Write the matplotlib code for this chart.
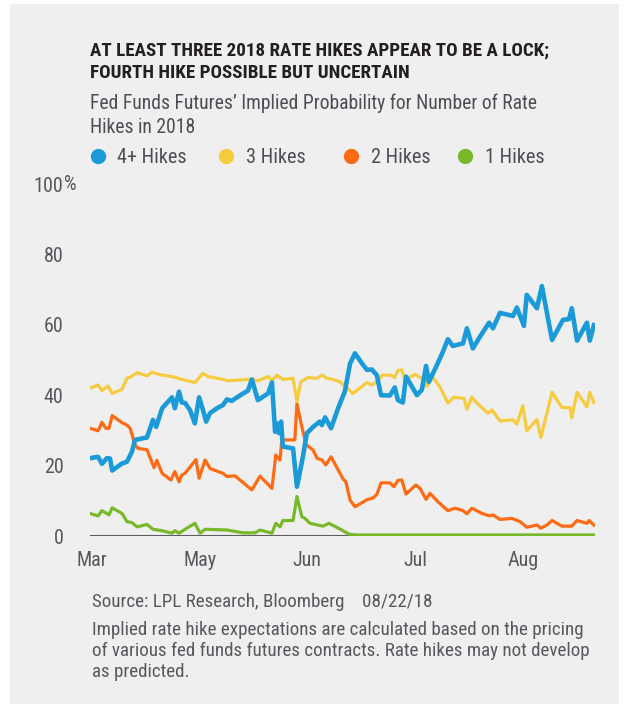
import matplotlib
matplotlib.use("Agg")
import matplotlib.pyplot as plt
from matplotlib.lines import Line2D
from matplotlib.patches import Rectangle

# days since start of chart window
blue_days = [0, 2.3, 3.4, 4.8, 5.7, 6.3, 9.1, 10.5, 11.9, 12.8, 16.2, 17.9, 18.8, 20.5, 23.3, 24.1,
             25.3, 26.1, 27.0, 28.4, 29.8, 31.0, 32.1, 33.0, 34.1, 36.1, 37.8, 38.9, 40.3, 41.8,
             43.5, 44.9, 46.0, 47.7, 50.6, 51.7, 52.6, 53.1, 53.7, 54.3, 54.8, 57.7, 58.8, 60.5,
             61.6, 63.4, 65.3, 65.9, 66.8, 68.5, 70.5, 72.4, 73.9, 75.3, 77.3, 78.7, 80.1, 81.5,
             82.7, 85.2, 86.6, 87.5, 88.9, 89.8, 92.9, 94.3, 95.5, 96.3, 98.6, 100.3, 101.7, 103.1,
             106.0, 107.1, 108.8, 110.8, 113.4, 114.5, 116.5, 120.2, 121.3, 123.3, 124.1, 127.0,
             128.4, 131.3, 134.4, 136.1, 136.9, 138.4, 141.2, 142.0, 143.2]
blue_vals = [22.1, 22.5, 20.5, 22.1, 22.0, 18.6, 20.6, 21.1, 23.9, 27.3, 28.0, 33.0, 31.0, 36.3, 39.4,
             36.3, 41.0, 37.9, 37.8, 35.8, 32.0, 39.4, 35.8, 32.5, 34.9, 36.3, 37.2, 38.8, 38.4, 39.4,
             40.5, 41.3, 44.5, 38.6, 40.5, 43.6, 29.6, 32.0, 29.2, 32.5, 25.4, 24.9, 14.0, 22.5,
             29.2, 31.0, 32.5, 31.5, 33.7, 30.6, 36.3, 41.0, 49.0, 51.9, 49.0, 47.2, 47.3, 45.7,
             40.0, 39.9, 42.2, 38.6, 37.9, 45.3, 40.0, 41.5, 48.3, 43.8, 48.6, 52.4, 55.9, 54.0,
             54.7, 59.0, 53.3, 56.6, 60.6, 59.0, 63.4, 62.5, 64.9, 59.7, 68.5, 64.7,
             71.0, 55.7, 61.4, 61.6, 64.7, 55.5, 60.6, 55.5, 59.9]

yellow_days = [0, 2.3, 3.4, 5.1, 6.3, 9.1, 10.5, 11.4, 13.4, 16.2, 17.6, 20.5, 23.3, 26.1, 29.8,
               32.1, 33.5, 37.8, 38.9, 45.5, 47.7, 50.6, 51.7, 53.1, 54.8, 57.7, 58.8, 59.9, 61.9,
               64.5, 65.9, 67.3, 69.0, 71.0, 72.4, 74.7, 76.7, 78.7, 80.1, 81.5, 83.0, 85.5, 86.6,
               87.5, 88.6, 89.5, 92.3, 95.2, 95.7, 97.4, 99.4, 101.7, 103.4, 106.3, 107.1, 108.5,
               110.2, 113.1, 114.2, 116.5, 120.2, 121.3, 123.0, 124.1, 127.0, 128.1, 131.3, 134.1,
               136.4, 136.9, 138.4, 141.2, 142.0, 143.2]
yellow_vals = [42.0, 42.9, 41.3, 42.6, 40.5, 41.7, 44.8, 45.1, 46.4, 45.5, 46.5, 45.7, 45.3, 44.5, 43.6,
               46.2, 45.3, 44.5, 44.1, 44.5, 44.1, 45.3, 44.1, 45.7, 44.5, 44.8, 38.2, 43.8, 45.0,
               44.8, 45.7, 44.8, 44.5, 43.8, 42.6, 40.5, 42.0, 43.6, 42.9, 43.8, 45.7, 45.7, 45.0,
               47.0, 47.2, 44.3, 45.9, 44.3, 42.5, 45.1, 42.4, 37.8, 39.4, 39.1, 36.0, 39.4,
               37.5, 34.9, 35.8, 32.7, 33.0, 31.8, 37.0, 29.9, 33.1, 28.0, 40.8, 36.5,
               36.5, 33.6, 40.8, 36.7, 40.8, 37.9]

orange_days = [0, 2.3, 3.4, 4.5, 5.4, 6.3, 9.1, 10.5, 11.4, 12.8, 13.6, 16.2, 18.2, 19.0, 20.5, 23.0,
               24.1, 25.3, 26.1, 27.0, 30.1, 31.0, 32.7, 34.1, 37.8, 38.9, 41.2, 45.5, 46.0, 48.3,
               51.7, 52.8, 54.0, 54.5, 58.2, 58.8, 60.2, 61.4, 63.4, 64.5, 65.9, 67.0, 68.5, 71.9,
               72.7, 73.9, 75.3, 78.7, 80.4, 81.5, 82.7, 85.2, 86.4, 87.5, 88.6, 89.8, 92.6, 93.8,
               95.5, 96.6, 98.9, 101.7, 103.7, 106.0, 107.1, 108.5, 111.4, 113.6, 114.5, 116.5,
               119.9, 122.2, 124.1, 127.0, 128.1, 129.8, 131.3, 134.1, 136.9, 138.4, 141.2, 141.8, 143.2]
orange_vals = [30.6, 29.9, 32.3, 30.6, 30.6, 34.2, 32.2, 31.5, 30.6, 25.9, 24.9, 24.5, 19.4, 21.5, 17.8, 15.9,
               18.3, 15.4, 17.3, 17.8, 21.7, 16.4, 21.6, 19.2, 17.8, 16.9, 17.1, 13.5, 13.1, 17.0,
               13.5, 23.0, 21.6, 27.3, 27.3, 37.6, 31.0, 26.0, 24.4, 22.1, 21.6, 20.2, 22.5, 16.2,
               15.4, 10.2, 8.3, 10.3, 10.8, 11.8, 15.1, 15.1, 14.0, 15.8, 15.9, 11.9, 14.5, 13.5,
               10.4, 12.1, 9.7, 7.2, 7.9, 7.2, 6.3, 7.9, 6.4, 5.7, 6.0, 4.7,
               5.0, 4.1, 2.5, 3.1, 2.2, 3.1, 4.4, 2.8, 2.8, 4.4, 3.6, 4.4, 3.1]

green_days = [0, 2.3, 3.4, 5.4, 6.3, 9.1, 10.5, 11.9, 13.4, 16.2, 17.9, 20.5, 23.3, 24.1, 25.3, 27.0,
              29.8, 31.3, 32.7, 38.9, 43.5, 46.9, 48.3, 51.7, 52.8, 54.0, 54.8, 57.7, 58.8, 60.2,
              61.1, 62.5, 66.2, 67.9, 71.0, 73.6, 75.3, 143.2]
green_vals = [6.4, 5.7, 7.2, 6.0, 8.0, 6.4, 4.1, 3.8, 2.6, 3.3, 1.9, 1.5, 0.8, 1.5, 0.8, 1.9,
              3.6, 0.8, 1.9, 1.7, 0.9, 0.9, 1.7, 0.8, 3.6, 2.6, 4.4, 4.4, 11.2, 5.5,
              5.0, 3.6, 2.8, 3.6, 2.0, 0.5, 0.3, 0.3]

month_ticks = [0.6, 31.3, 61.6, 92.5, 123.0]
month_labels = ["Mar", "May", "Jun", "Jul", "Aug"]
y_ticks = [0, 20, 40, 60, 80, 100]

series_names = ["4+ Hikes", "3 Hikes", "2 Hikes", "1 Hikes"]
series_colors = ["#1a9bd8", "#f6cb40", "#ff6b14", "#78b82a"]

FONT = ["Roboto Condensed", "Archivo Narrow", "PT Sans Narrow", "DejaVu Sans"]
BOLD_FONT = ["Roboto Condensed", "Barlow Condensed", "PT Sans Narrow", "Archivo Narrow", "DejaVu Sans"]
plt.rcParams["font.family"] = FONT

W, H = 628, 708
fig = plt.figure(figsize=(W / 100, H / 100), dpi=100, facecolor="white")

def fx(px):
    return px / W

def fy(py):
    return 1 - py / H

# grey card behind everything
fig.add_artist(Rectangle((fx(10), fy(704)), fx(619) - fx(10), fy(4) - fy(704),
                         transform=fig.transFigure, facecolor="#efefef", edgecolor="none", zorder=0))

ax = fig.add_axes([fx(90), fy(536), fx(595) - fx(90), fy(184) - fy(536)])
ax.set_facecolor("none")
for s in ax.spines.values():
    s.set_visible(False)

ax.axhline(0, color="#5a5d61", lw=2.2, zorder=1)
ax.plot(green_days, green_vals, color=series_colors[3], lw=2.3, zorder=2, solid_joinstyle="round")
ax.plot(orange_days, orange_vals, color=series_colors[2], lw=2.3, zorder=3, solid_joinstyle="round")
ax.plot(yellow_days, yellow_vals, color=series_colors[1], lw=2.3, zorder=4, solid_joinstyle="round")
ax.plot(blue_days, blue_vals, color=series_colors[0], lw=3.3, zorder=5, solid_joinstyle="round")

ax.set_xlim(0, 143.5)
ax.set_ylim(0, 100)
ax.set_xticks(month_ticks)
ax.set_xticklabels(month_labels)
ax.set_yticks(y_ticks)
ax.set_yticklabels([str(v) for v in y_ticks])
ax.tick_params(axis="both", length=0, labelsize=14.5, labelcolor="#55585d")
ax.tick_params(axis="y", pad=19)
ax.tick_params(axis="x", pad=11)
ax.annotate("%", xy=(0, 100), xycoords=("axes fraction", "data"), xytext=(-18.8, 0),
            textcoords="offset points", ha="left", va="center", fontsize=14.5, color="#55585d")

# title block
fig.text(fx(90), fy(56), "AT LEAST THREE 2018 RATE HIKES APPEAR TO BE A LOCK;",
         fontsize=13.7, fontweight="bold", color="#231f20", va="baseline", family=BOLD_FONT)
fig.text(fx(90), fy(78), "FOURTH HIKE POSSIBLE BUT UNCERTAIN",
         fontsize=13.7, fontweight="bold", color="#231f20", va="baseline", family=BOLD_FONT)
fig.text(fx(90), fy(109), "Fed Funds Futures\u2019 Implied Probability for Number of Rate",
         fontsize=14.1, color="#4b4f55", va="baseline")
fig.text(fx(90), fy(133), "Hikes in 2018", fontsize=14.1, color="#4b4f55", va="baseline")

# legend
marker_x = [97.5, 226, 351, 465]
for name, col, mx in zip(series_names, series_colors, marker_x):
    fig.add_artist(Line2D([fx(mx)], [fy(156)], marker="o", markersize=10, color=col,
                          transform=fig.transFigure, linestyle="none"))
    fig.text(fx(mx + 20), fy(163), name, fontsize=14.6, color="#4b4f55", va="baseline")

# notes
fig.text(fx(92), fy(607), "Source: LPL Research, Bloomberg    08/22/18",
         fontsize=13.7, color="#55595e", va="baseline")
notes = ["Implied rate hike expectations are calculated based on the pricing",
         "of various fed funds futures contracts. Rate hikes may not develop",
         "as predicted."]
for i, line in enumerate(notes):
    fig.text(fx(92), fy(635 + 21 * i), line, fontsize=13.7, color="#55595e", va="baseline")

fig.savefig("out.png", dpi=100, facecolor="white")
